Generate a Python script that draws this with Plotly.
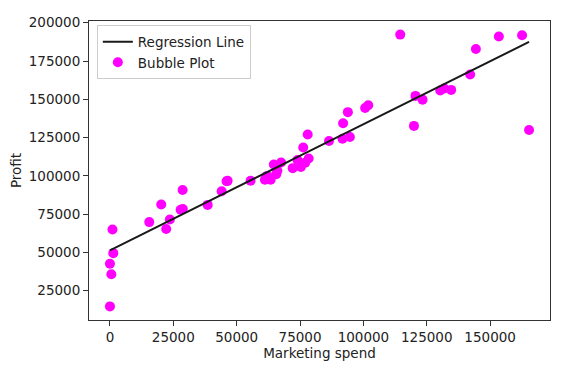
import numpy as np
import plotly.graph_objects as go

spend = [114523.61, 162597.70, 153441.51, 144372.41, 142107.34, 131876.90, 134615.46, 130298.13,
         120542.52, 123334.88, 101913.08, 100671.96, 93863.75, 91992.39, 119943.24, 165349.20,
         78013.11, 94657.16, 91749.16, 86419.70, 76253.86, 78389.47, 73994.56, 67532.53,
         77044.01, 64664.71, 75328.87, 72107.60, 66051.52, 65605.48, 61994.48, 61136.38,
         63408.86, 55493.95, 46426.07, 46014.02, 28663.76, 44069.95, 20229.59, 38558.51,
         28754.33, 27892.92, 23640.93, 15505.73, 22177.74, 1000.23, 1315.46, 0.0, 542.05, 0.0]
profit = [192261.83, 191792.06, 191050.39, 182901.99, 166187.94, 156991.12, 156122.51, 155752.60,
          152211.77, 149759.96, 146121.95, 144259.40, 141585.52, 134307.35, 132602.65, 129917.04,
          126992.93, 125370.37, 124266.90, 122776.86, 118474.03, 111313.02, 110352.25, 108733.99,
          108552.04, 107404.34, 105733.54, 105008.31, 103282.38, 101004.64, 99937.59, 97483.56,
          97427.84, 96778.92, 96712.80, 96479.51, 90708.19, 89949.14, 81229.06, 81005.76,
          78239.91, 77798.83, 71498.49, 69758.98, 65200.33, 64926.08, 49490.75, 42559.73,
          35673.41, 14681.40]
xticks = [0, 25000, 50000, 75000, 100000, 125000, 150000]
yticks = [25000, 50000, 75000, 100000, 125000, 150000, 175000, 200000]

x = np.array(spend)
y = np.array(profit)
slope, intercept = np.polyfit(x, y, 1)
xs = np.sort(x)
ys = slope * xs + intercept

fig = go.Figure()
fig.add_trace(go.Scatter(x=x, y=y, mode="markers", name="Bubble Plot",
                         marker=dict(color="#ff00ff", size=10, line=dict(width=0)),
                         legendrank=2))
fig.add_trace(go.Scatter(x=xs, y=ys, mode="lines", name="Regression Line",
                         line=dict(color="#1a1a1a", width=2), legendrank=1))

xpad = 0.05 * (x.max() - x.min())
ypad = 0.05 * (y.max() - y.min())
axis_common = dict(showline=True, linecolor="#333", linewidth=1, mirror=True,
                   ticks="outside", ticklen=5, tickcolor="#333", showgrid=False,
                   zeroline=False, tickfont=dict(size=13.5, color="#222"), automargin=False)
fig.update_xaxes(range=[x.min() - xpad, x.max() + xpad], tickvals=xticks,
                 ticktext=[str(v) for v in xticks],
                 title=dict(text="Marketing spend", font=dict(size=13.5, color="#222"), standoff=3),
                 **axis_common)
fig.update_yaxes(range=[y.min() - ypad, y.max() + ypad], tickvals=yticks,
                 ticktext=[str(v) for v in yticks],
                 title=dict(text="Profit", font=dict(size=13.5, color="#222"), standoff=8),
                 **axis_common)
fig.update_layout(width=577, height=358, margin=dict(l=81, r=35, t=13, b=46),
                  plot_bgcolor="white", paper_bgcolor="white",
                  font=dict(family="DejaVu Sans", size=13.5, color="#222"),
                  legend=dict(x=0.017, y=0.985, xanchor="left", yanchor="top",
                              bgcolor="white", bordercolor="#cccccc", borderwidth=1,
                              font=dict(size=13.5), itemwidth=30, tracegroupgap=0),
                  showlegend=True)
fig.write_html("out.html")
